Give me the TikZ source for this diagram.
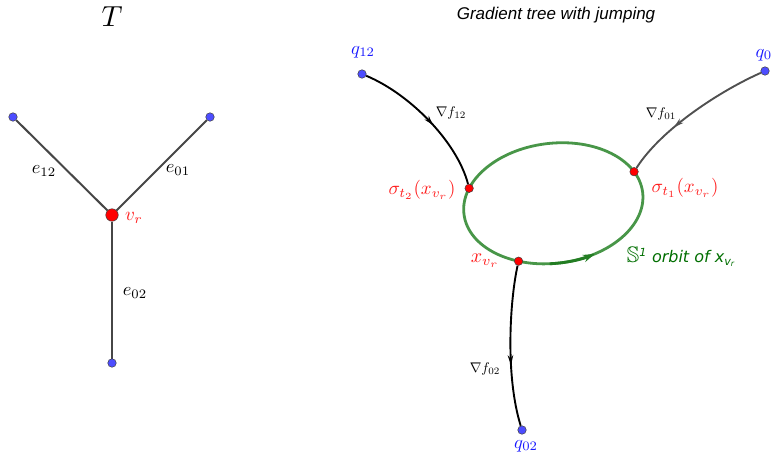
\documentclass[tikz,border=0pt]{standalone}
\usepackage{amssymb}
\usepackage{fontspec}
\newfontfamily\titlefont{Liberation Sans}
\newfontfamily\orbitfont{DejaVu Sans}
\usetikzlibrary{arrows.meta,decorations.markings,calc}
\pgfdeclarelayer{background}
\pgfsetlayers{background,main}
\newcommand\setfs[1]{\fontsize{#1}{#1}\selectfont}
\newcommand\mlab[2]{\scalebox{#1}{$#2$}}
\definecolor{ptblue}{RGB}{77,77,255}
\definecolor{lblblue}{RGB}{25,25,255}
\definecolor{ptred}{RGB}{255,0,0}
\definecolor{lblred}{RGB}{255,30,30}
\definecolor{orbitgreen}{RGB}{72,150,72}
\definecolor{arrowgreen}{RGB}{35,125,35}
\definecolor{textgreen}{RGB}{0,110,0}
\definecolor{edgegray}{RGB}{70,70,70}
\definecolor{flowgray}{RGB}{80,80,80}
\tikzset{
  leaf/.style={circle, fill=ptblue, draw=black!75, line width=0.5pt, inner sep=0pt, minimum size=8.5pt},
  redpt/.style={circle, fill=ptred, draw=black!75, line width=0.5pt, inner sep=0pt, minimum size=8.5pt},
  bigred/.style={circle, fill=ptred, draw=black!75, line width=0.5pt, inner sep=0pt, minimum size=12.5pt},
  treeedge/.style={draw=edgegray, line width=2pt},
  flow/.style={line width=1.9pt, postaction=decorate},
  midarrow/.style={decoration={markings, mark=at position #1 with {\arrow{Stealth[length=10pt,width=5.5pt]}}}},
  lbl/.style={inner sep=0pt},
  orbit/.style={draw=orbitgreen, line width=2.8pt}
}
\begin{document}
\begin{tikzpicture}[x=1pt,y=-1pt]
\useasboundingbox (0,0) rectangle (775,455);

% ---------- left tree ----------
\node[leaf] (l1) at (13,117) {};
\node[leaf] (l2) at (210,117) {};
\node[bigred] (vr) at (112,215) {};
\node[leaf] (l3) at (112,363) {};
\begin{pgfonlayer}{background}
  \draw[treeedge] (l1) -- (vr);
  \draw[treeedge] (l2) -- (vr);
  \draw[treeedge] (vr) -- (l3);
\end{pgfonlayer}
\node[lbl] (Tlab) at (112,17) {\mlab{2.9}{T}};
\node[lbl] (e12) at (44,171) {\mlab{1.85}{e_{12}}};
\node[lbl] (e01) at (178,170) {\mlab{1.85}{e_{01}}};
\node[lbl] (e02) at (135,293) {\mlab{1.85}{e_{02}}};
\node[lbl, text=lblred] (vrl) at (134,218) {\mlab{1.9}{v_r}};

% ---------- right picture ----------
\node[lbl, font=\titlefont\itshape\setfs{17}] (title) at (556,15) {Gradient tree with jumping};

\begin{scope}[shift={(553.3,203.3)}, rotate=7]
  \begin{pgfonlayer}{background}
    \draw[orbit] (0,0) ellipse [x radius=90, y radius=60];
    \draw[draw=arrowgreen, line width=2.8pt, -{Stealth[length=12pt,width=7.5pt]}]
      (97:90 and 60) arc [start angle=97, end angle=67, x radius=90, y radius=60];
  \end{pgfonlayer}
  \coordinate (cs2) at (-155.2:90 and 60);
  \coordinate (cs1) at (-21:90 and 60);
  \coordinate (cxv) at (117.5:90 and 60);
\end{scope}

\node[leaf] (q12) at (362,74) {};
\node[leaf] (q0) at (765,71) {};
\node[leaf] (q02) at (522,430) {};
\node[redpt] (s2) at (cs2) {};
\node[redpt] (s1) at (cs1) {};
\node[redpt] (xv) at (cxv) {};

\begin{pgfonlayer}{background}
  \draw[flow, midarrow=0.55] (q12) .. controls (410,94) and (457,142) .. (s2);
  \draw[flow, draw=flowgray, midarrow=0.65] (q0) .. controls (722,90) and (662,128) .. (s1);
  \draw[flow, midarrow=0.62] (xv) .. controls (510,300) and (505,375) .. (q02);
\end{pgfonlayer}

\node[lbl, text=lblblue] (q12l) at (363,52) {\mlab{1.85}{q_{12}}};
\node[lbl, text=lblblue] (q0l) at (764,55) {\mlab{1.85}{q_{0}}};
\node[lbl, text=lblblue] (q02l) at (526,446) {\mlab{1.85}{q_{02}}};
\node[lbl] (g12) at (451,113) {\mlab{1.4}{\nabla f_{12}}};
\node[lbl] (g01) at (661,114) {\mlab{1.4}{\nabla f_{01}}};
\node[lbl] (g02) at (485,369) {\mlab{1.4}{\nabla f_{02}}};
\node[lbl, text=lblred] (s2l) at (422,190) {\mlab{1.9}{\sigma_{t_2}(x_{v_r})}};
\node[lbl, text=lblred] (s1l) at (685,188) {\mlab{1.9}{\sigma_{t_1}(x_{v_r})}};
\node[lbl, text=lblred] (xvl) at (485,261) {\mlab{2}{x_{v_r}}};
\node[lbl, text=textgreen, font=\orbitfont\itshape\setfs{16}] (orbl) at (681,257)
  {\scalebox{1.4}{$\mathbb{S}$}\textsuperscript{1} orbit of x\textsubscript{v\textsubscript{r}}};
\end{tikzpicture}
\end{document}
